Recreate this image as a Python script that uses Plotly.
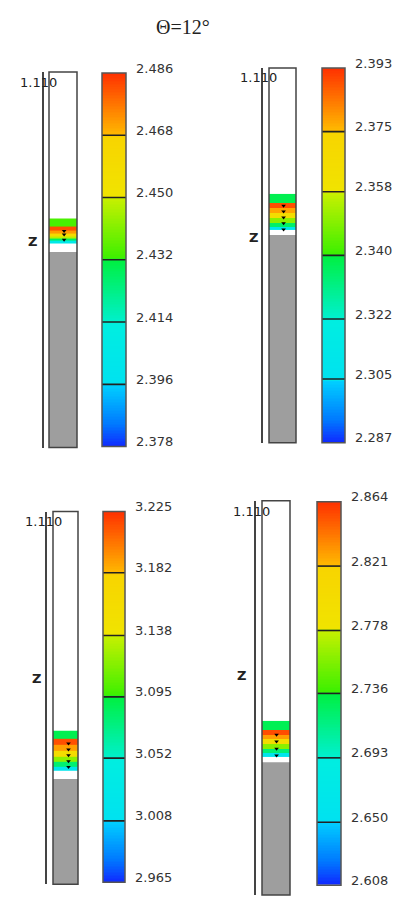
import numpy as np
import plotly.graph_objects as go

W, H = 409, 898
Z_TOP = 1.110

title_text = "Θ=12°"

# colour-bar levels for each of the four panels (bottom -> top)
cbar_levels = [
    [2.378, 2.396, 2.414, 2.432, 2.450, 2.468, 2.486],
    [2.287, 2.305, 2.322, 2.340, 2.358, 2.375, 2.393],
    [2.965, 3.008, 3.052, 3.095, 3.138, 3.182, 3.225],
    [2.608, 2.650, 2.693, 2.736, 2.778, 2.821, 2.864],
]

# height of the grey (liquid) region in each column
liquid_level = [0.578, 0.615, 0.313, 0.374]

# coloured band: cell edges (Z) and values, bottom -> top
band_edges = [
    [0.604, 0.613, 0.618, 0.624, 0.632, 0.643, 0.654, 0.677],
    [0.629, 0.640, 0.652, 0.666, 0.680, 0.696, 0.711, 0.737],
    [0.337, 0.350, 0.364, 0.380, 0.398, 0.416, 0.433, 0.457],
    [0.390, 0.400, 0.412, 0.425, 0.438, 0.452, 0.465, 0.490],
]
band_values = [
    [2.405, 2.428, 2.448, 2.460, 2.472, 2.482, 2.434],
    [2.310, 2.335, 2.350, 2.365, 2.378, 2.389, 2.338],
    [3.020, 3.080, 3.120, 3.160, 3.190, 3.215, 3.090],
    [2.660, 2.720, 2.760, 2.800, 2.830, 2.855, 2.730],
]

# small contour-label marks inside the band
mark_z = [
    [0.640, 0.630, 0.614],
    [0.702, 0.685, 0.667, 0.650, 0.632],
    [0.419, 0.401, 0.384, 0.366, 0.349],
    [0.451, 0.432, 0.412, 0.393],
]
mark_x = [0.54, 0.54, 0.62, 0.52]

# ---- layout geometry (pixels) ----
col_box = [  # left, right, top, bottom
    (49, 77, 61, 443),
    (269, 296, 57, 438),
    (53, 78, 508, 887),
    (262, 290, 497, 898),
]
cb_box = [
    (102, 126, 62, 442),
    (322, 345, 57, 438),
    (103, 125, 508, 885),
    (317, 341, 498, 888),
]
axis_line_x = [42.5, 261.5, 45.5, 254.5]
top_label_pos = [(38, 72), (258, 67), (43, 518), (251, 508)]
z_label_pos = [(32, 233), (253, 229), (36, 678), (242, 675)]

colorscale = [
    [0.0, "#1028ff"], [0.06, "#0078ff"], [0.165, "#00d0ff"],
    [0.168, "#00e2f0"], [0.33, "#00eee0"],
    [0.335, "#00f0cc"], [0.5, "#00f040"],
    [0.503, "#3cf000"], [0.665, "#c8f000"],
    [0.668, "#f0e400"], [0.83, "#f8d400"],
    [0.835, "#ffb800"], [1.0, "#ff3000"],
]

LABEL_FONT = "DejaVu Sans, Arial"


def px_x(v):
    return v / W


def px_y(v):
    return 1 - v / H


fig = go.Figure()
shapes = []
annotations = []
layout_axes = {}

for i in range(4):
    ci = i + 1          # column axes index
    bi = i + 5          # colour-bar axes index
    vmin, vmax = cbar_levels[i][0], cbar_levels[i][-1]
    xs_c = "x" if ci == 1 else f"x{ci}"
    ys_c = "y" if ci == 1 else f"y{ci}"
    xs_b, ys_b = f"x{bi}", f"y{bi}"

    # grey liquid column
    fig.add_trace(go.Bar(x=[0.5], y=[liquid_level[i]], width=1,
                         marker=dict(color="#9e9e9e", line=dict(width=0)),
                         xaxis=xs_c, yaxis=ys_c, hoverinfo="skip",
                         showlegend=False))
    # coloured band
    fig.add_trace(go.Heatmap(x=[0, 1], y=band_edges[i],
                             z=[[v] for v in band_values[i]],
                             zmin=vmin, zmax=vmax, colorscale=colorscale,
                             showscale=False, hoverinfo="skip",
                             xaxis=xs_c, yaxis=ys_c))
    # marks
    fig.add_trace(go.Scatter(x=[mark_x[i]] * len(mark_z[i]), y=mark_z[i],
                             mode="markers",
                             marker=dict(symbol="triangle-down", size=4,
                                         color="black"),
                             xaxis=xs_c, yaxis=ys_c, hoverinfo="skip",
                             showlegend=False))

    # colour bar
    edges = np.linspace(vmin, vmax, 241)
    mids = (edges[:-1] + edges[1:]) / 2
    fig.add_trace(go.Heatmap(x=[0, 1], y=edges, z=[[v] for v in mids],
                             zmin=vmin, zmax=vmax, colorscale=colorscale,
                             showscale=False, hoverinfo="skip",
                             xaxis=xs_b, yaxis=ys_b))

    l, r, t, b = col_box[i]
    layout_axes["xaxis" if ci == 1 else f"xaxis{ci}"] = dict(
        domain=[px_x(l), px_x(r)], range=[0, 1], visible=False,
        anchor=ys_c, fixedrange=True)
    layout_axes["yaxis" if ci == 1 else f"yaxis{ci}"] = dict(
        domain=[px_y(b), px_y(t)], range=[0, Z_TOP],
        anchor="free", position=px_x(axis_line_x[i]),
        showline=True, linecolor="#444", linewidth=2,
        ticks="inside", ticklen=5, tickwidth=1.5, tickcolor="#444",
        tickvals=[0, Z_TOP], showticklabels=False, showgrid=False,
        zeroline=False, fixedrange=True)
    shapes.append(dict(type="rect", xref=f"{xs_c} domain", yref=f"{ys_c} domain",
                       x0=0, x1=1, y0=0, y1=1, layer="above",
                       line=dict(color="#444", width=1.5)))

    l, r, t, b = cb_box[i]
    layout_axes[f"xaxis{bi}"] = dict(
        domain=[px_x(l), px_x(r)], range=[0, 1], visible=False,
        anchor=ys_b, fixedrange=True)
    layout_axes[f"yaxis{bi}"] = dict(
        domain=[px_y(b), px_y(t)], range=[vmin, vmax], anchor=xs_b,
        side="right", tickvals=cbar_levels[i],
        ticktext=[f"{v:.3f}" for v in cbar_levels[i]],
        ticks="", showgrid=False, zeroline=False, showline=False,
        tickfont=dict(family=LABEL_FONT, size=13, color="#333"),
        ticklabelstandoff=9, ticklabelshift=-5, fixedrange=True)
    for v in cbar_levels[i][1:-1]:
        shapes.append(dict(type="line", xref=f"{xs_b} domain", yref=ys_b,
                           x0=0, x1=1, y0=v, y1=v, layer="above",
                           line=dict(color="#222", width=1.6)))
    shapes.append(dict(type="rect", xref=f"{xs_b} domain", yref=f"{ys_b} domain",
                       x0=0, x1=1, y0=0, y1=1, layer="above",
                       line=dict(color="#555", width=1.5)))

    tx, ty = top_label_pos[i]
    annotations.append(dict(text="1.110", x=px_x(tx), y=px_y(ty),
                            xref="paper", yref="paper", showarrow=False,
                            xanchor="center", yanchor="middle",
                            font=dict(family=LABEL_FONT, size=13,
                                      color="#222")))
    zx, zy = z_label_pos[i]
    annotations.append(dict(text="<b>Z</b>", x=px_x(zx), y=px_y(zy),
                            xref="paper", yref="paper", showarrow=False,
                            xanchor="center", yanchor="middle",
                            font=dict(family=LABEL_FONT, size=13,
                                      color="#222")))

annotations.append(dict(text=title_text, x=px_x(183), y=px_y(15),
                        xref="paper", yref="paper", showarrow=False,
                        xanchor="center", yanchor="middle",
                        font=dict(family="Liberation Serif, Times New Roman",
                                  size=20, color="#222")))

fig.update_layout(width=W, height=H, margin=dict(l=0, r=0, t=0, b=0),
                  paper_bgcolor="white", plot_bgcolor="white",
                  showlegend=False, shapes=shapes, annotations=annotations,
                  **layout_axes)

fig.write_html("out.html", config={"displayModeBar": False},
               post_script="document.body.style.margin='0';"
                           "document.body.style.overflow='hidden';")
